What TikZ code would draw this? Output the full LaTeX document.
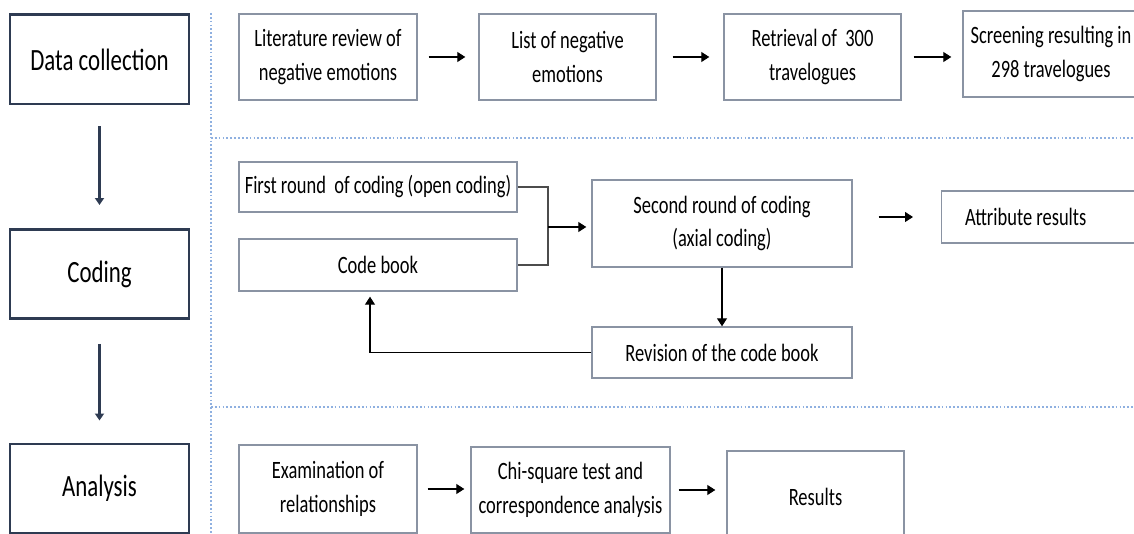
\documentclass[tikz,border=0pt]{standalone}
\usepackage{fontspec}
\setmainfont{Carlito}[FakeStretch=0.74]
\usetikzlibrary{arrows.meta}

\definecolor{stageline}{HTML}{2E3B52}
\definecolor{boxline}{HTML}{8A93A3}
\definecolor{sepline}{HTML}{8FB0E0}

\begin{document}
\begin{tikzpicture}[
    stagebox/.style={rectangle, draw=stageline, line width=1.7pt, minimum width=3.58cm, minimum height=1.78cm, font=\fontsize{17.6}{21}\selectfont},
    stepbox/.style={rectangle, draw=boxline, line width=0.8pt, align=center, inner sep=0pt, font=\fontsize{14.2}{19.3}\selectfont},
    flow/.style={-{Triangle[length=1.6mm, width=2mm]}, line width=0.6pt},
    stageflow/.style={-{Triangle[length=1.4mm, width=1.8mm]}, stageline, line width=1.6pt},
    link/.style={black!70, line width=0.6pt},
    sep/.style={sepline, dash pattern=on 1pt off 1.2pt, line width=0.6pt}
  ]

  \clip (0,0) rectangle (22.68,10.68);

  % stages on the left
  \node [stagebox] (datacoll) at (1.99,9.49) {Data collection};
  \node [stagebox] (coding)   at (1.99,5.20) {Coding};
  \node [stagebox] (analysis) at (1.99,0.91) {Analysis};

  \draw [stageflow, shorten <=0.42cm, shorten >=0.46cm] (datacoll) -- (coding);
  \draw [stageflow, shorten <=0.48cm, shorten >=0.44cm] (coding) -- (analysis);

  % separators
  \draw [sep] (4.22,10.42) -- (4.22,0);
  \draw [sep] (4.22,7.92) -- (22.68,7.92);
  \draw [sep] (4.22,2.54) -- (22.68,2.54);

  % data collection row
  \node [stepbox, minimum width=3.56cm, minimum height=1.72cm] (litreview) at (6.56,9.54)  {Literature review of\\negative emotions};
  \node [stepbox, minimum width=3.54cm, minimum height=1.72cm] (negemo)    at (11.35,9.54) {List of negative\\emotions};
  \node [stepbox, minimum width=3.54cm, minimum height=1.72cm] (retrieval) at (16.25,9.54) {Retrieval of~ 300\\travelogues};
  \node [stepbox, minimum width=3.52cm, minimum height=1.72cm] (screening) at (21.02,9.60) {Screening resulting in\\298 travelogues};

  \draw [flow, shorten <=0.22cm, shorten >=0.26cm] (litreview) -- (negemo);
  \draw [flow, shorten <=0.32cm, shorten >=0.28cm] (negemo) -- (retrieval);
  \draw [flow, shorten <=0.24cm, shorten >=0.22cm] (retrieval.east) -- (retrieval.east -| screening.west);

  % coding row
  \node [stepbox, minimum width=5.56cm, minimum height=1.00cm] (firstround) at (7.56,6.94)  {First round~ of coding (open coding)};
  \node [stepbox, minimum width=5.56cm, minimum height=1.04cm] (codebook)   at (7.56,5.38)  {Code book};
  \node [stepbox, minimum width=5.20cm, minimum height=1.74cm] (secround)   at (14.44,6.21) {Second round of coding\\(axial coding)};
  \node [stepbox, minimum width=5.20cm, minimum height=1.02cm] (revision)   at (14.44,3.63) {Revision of the code book};
  \node [stepbox, anchor=west, minimum height=1.04cm] (attribute) at (18.82,6.34) {\makebox[3.36cm][c]{Attribute results}\hspace{1cm}};

  \coordinate (merge) at (10.96,6.14);
  \draw [link] (firstround.east) -- (firstround.east -| merge) -- (codebook.east -| merge) -- (codebook.east);
  \draw [flow, shorten >=0.1cm] (merge) -- (merge -| secround.west);
  \draw [flow, shorten <=0.52cm, shorten >=0.56cm] (secround.east |- attribute) -- (attribute.west);
  \draw [flow] (secround) -- (revision);
  \draw [flow, shorten >=0.1cm] (revision.west) -| ([xshift=-0.16cm]codebook.south);

  % analysis row
  \node [stepbox, minimum width=3.56cm, minimum height=1.76cm] (exam)    at (6.56,0.90)  {Examination of\\relationships};
  \node [stepbox, minimum width=3.98cm, minimum height=1.72cm] (chisq)   at (11.41,0.88) {Chi-square test and\\correspondence analysis};
  \node [stepbox, minimum width=3.54cm, minimum height=1.84cm] (results) at (16.31,0.74) {Results};

  \draw [flow, shorten <=0.2cm, shorten >=0.12cm] (exam.east) -- (exam.east -| chisq.west);
  \draw [flow, shorten <=0.16cm, shorten >=0.22cm] (chisq.east) -- (chisq.east -| results.west);

\end{tikzpicture}
\end{document}
